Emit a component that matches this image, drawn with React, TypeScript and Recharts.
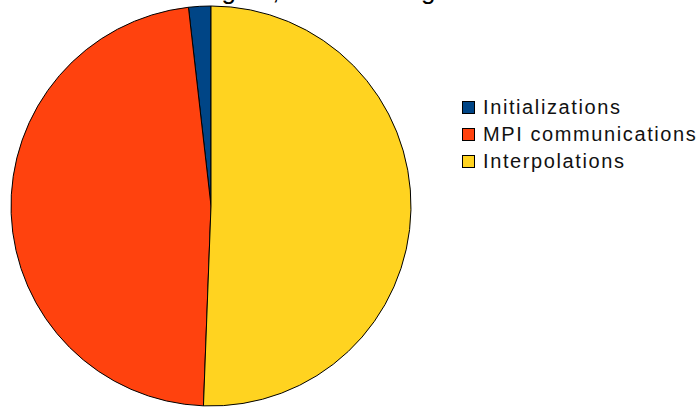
import { Cell, Legend, Pie, PieChart } from "recharts";

const categories = ["Initializations", "MPI communications", "Interpolations"];
const shares = [1.8, 47.6, 50.6];
const colors = ["#004586", "#ff420e", "#ffd320"];
const title = "Timing 32, 64 cores avg";

const data = categories.map((name, i) => ({ name, value: shares[i] }));

const font = '"Liberation Sans", Arial, sans-serif';

function LegendBox() {
  return (
    <div style={{ fontFamily: font }}>
      {categories.map((name, i) => (
        <div
          key={name}
          style={{ display: "flex", alignItems: "center", height: 27 }}
        >
          <span
            style={{
              width: 11,
              height: 11,
              background: colors[i],
              border: "1px solid #000",
              marginRight: 8,
              flexShrink: 0,
            }}
          />
          <span
            style={{
              fontSize: 20,
              letterSpacing: 1.6,
              color: "#111",
              whiteSpace: "nowrap",
            }}
          >
            {name}
          </span>
        </div>
      ))}
    </div>
  );
}

export default function App() {
  return (
    <div
      style={{
        position: "absolute",
        left: 0,
        top: 0,
        width: 699,
        height: 407,
        overflow: "hidden",
        background: "#fff",
      }}
    >
      <svg
        width={699}
        height={40}
        style={{ position: "absolute", left: 0, top: 0 }}
      >
        <text x={159} y={-1} fontFamily={font} fontSize={26} fill="#000">
          {title}
        </text>
      </svg>
      <PieChart width={699} height={407} margin={{ top: 0, right: 0, bottom: 0, left: 0 }}>
        <Pie
          data={data}
          dataKey="value"
          nameKey="name"
          cx={211}
          cy={206}
          outerRadius={200}
          startAngle={90}
          endAngle={450}
          stroke="#000"
          strokeWidth={1}
          isAnimationActive={false}
        >
          {data.map((d, i) => (
            <Cell key={d.name} fill={colors[i]} />
          ))}
        </Pie>
        <Legend
          layout="vertical"
          verticalAlign="top"
          align="right"
          content={() => <LegendBox />}
          wrapperStyle={{ left: 462, top: 94, width: 237 }}
        />
      </PieChart>
    </div>
  );
}
